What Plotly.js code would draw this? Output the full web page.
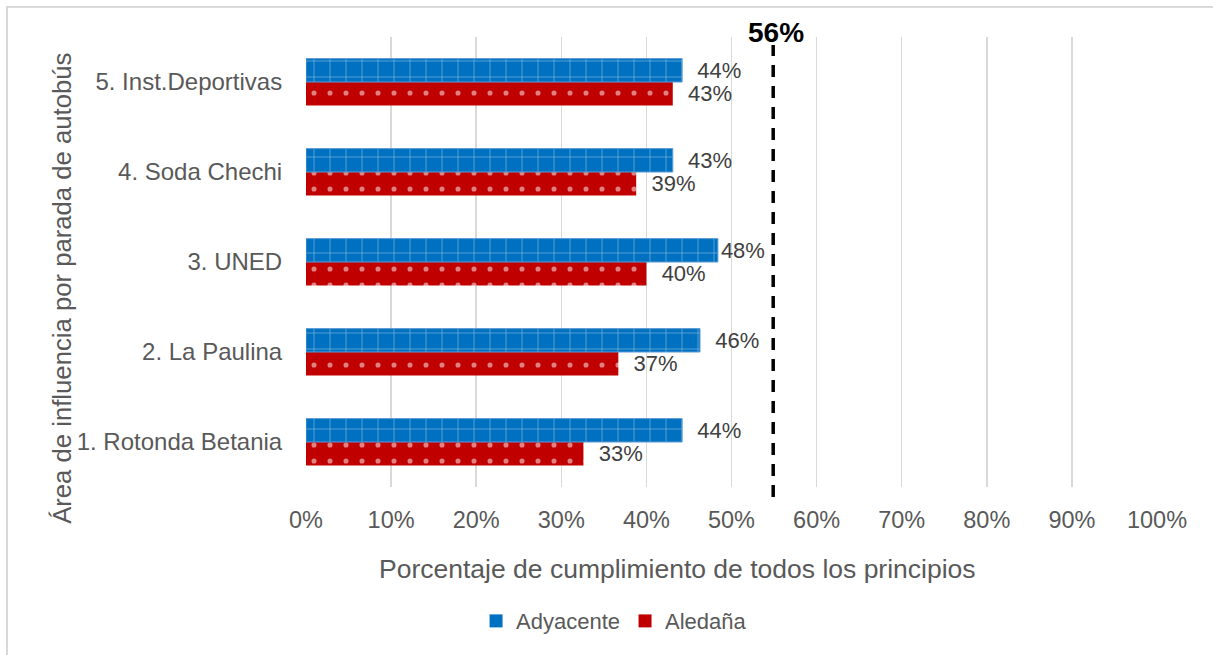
<!DOCTYPE html>
<html>
<head>
<meta charset="utf-8">
<script src="https://cdn.plot.ly/plotly-3.0.1.min.js"></script>
<style>
html,body{margin:0;padding:0;overflow:hidden;background:#fff;}
#frame{position:absolute;left:6px;top:6px;width:1300px;height:700px;border-left:2px solid #d9d9d9;border-top:2px solid #d9d9d9;box-sizing:border-box;pointer-events:none;z-index:5;}
#chart{position:absolute;left:0;top:0;width:1213px;height:655px;}
</style>
</head>
<body>
<div id="chart"></div>
<div id="frame"></div>
<script>
// Data (bottom to top)
const categories = ["1. Rotonda Betania", "2. La Paulina", "3. UNED", "4. Soda Chechi", "5. Inst.Deportivas"];
const adyacente = [44.2, 46.3, 48.4, 43.1, 44.2];
const adyacenteLabels = ["44%", "46%", "48%", "43%", "44%"];
const aledana = [32.6, 36.7, 40.0, 38.8, 43.1];
const aledanaLabels = ["33%", "37%", "40%", "39%", "43%"];
const referenceValue = 54.9;
const referenceLabel = "56%";
const xTickVals = [0,10,20,30,40,50,60,70,80,90,100];
const xTickText = ["0%","10%","20%","30%","40%","50%","60%","70%","80%","90%","100%"];

const FONT = "Liberation Sans, Arial, sans-serif";
const PAD = "\u00a0\u00a0%{text}";
const PAD_SMALL = "%{text}";
const BLUE = "#0070C0", RED = "#C00000";

const traces = [
  {
    type: "bar", orientation: "h", name: "Aledaña", showlegend: false,
    y: categories, x: aledana, text: aledanaLabels,
    texttemplate: PAD, constraintext: "none",
    textposition: "outside", cliponaxis: false,
    textfont: {family: FONT, size: 22, color: "#404040"},
    marker: {color: RED,
      pattern: {shape: ".", fillmode: "overlay", fgcolor: "#ffffff", bgcolor: RED, size: 16, solidity: 0.08}}
  },
  {
    type: "bar", orientation: "h", name: "Adyacente", showlegend: false,
    y: categories, x: adyacente, text: adyacenteLabels,
    texttemplate: [PAD, PAD, PAD_SMALL, PAD, PAD], constraintext: "none",
    textposition: "outside", cliponaxis: false,
    textfont: {family: FONT, size: 22, color: "#404040"},
    marker: {color: BLUE, line: {color: "#5B9BD5", width: 1},
      pattern: {shape: "+", fillmode: "overlay", fgcolor: "#ffffff", bgcolor: BLUE, size: 16, solidity: 0.08}}
  },
  // legend entries (solid squares)
  {type: "scatter", mode: "markers", name: "Adyacente", x: [null], y: [null],
   marker: {symbol: "square", size: 13, color: BLUE}, hoverinfo: "skip"},
  {type: "scatter", mode: "markers", name: "Aledaña", x: [null], y: [null],
   marker: {symbol: "square", size: 13, color: RED}, hoverinfo: "skip"}
];

const layout = {
  width: 1213, height: 655,
  margin: {l: 306, r: 56, t: 37, b: 168},
  paper_bgcolor: "#ffffff", plot_bgcolor: "#ffffff",
  font: {family: FONT, color: "#595959"},
  barmode: "group", bargap: 0.48, bargroupgap: 0,
  showlegend: true,
  legend: {orientation: "h", x: 0.362, xanchor: "center", y: -0.298, yanchor: "middle",
    itemwidth: 30, font: {family: FONT, size: 22, color: "#595959"}},
  xaxis: {
    range: [0, 100], tickvals: xTickVals, ticktext: xTickText,
    showgrid: true, gridcolor: "#d9d9d9", gridwidth: 1.5, zeroline: false,
    showline: false, ticks: "outside", ticklen: 12, tickcolor: "rgba(0,0,0,0)",
    tickfont: {family: FONT, size: 23.5, color: "#595959"}, fixedrange: true
  },
  yaxis: {
    type: "category", categoryorder: "array", categoryarray: categories,
    showgrid: false, zeroline: false, showline: false,
    ticks: "outside", ticklen: 18, tickcolor: "rgba(0,0,0,0)",
    tickfont: {family: FONT, size: 24, color: "#595959"}, fixedrange: true
  },
  shapes: [
    {type: "line", xref: "x", yref: "paper", x0: referenceValue, x1: referenceValue, y0: -0.022, y1: 0.982,
     line: {color: "#000000", width: 3.5, dash: "12px,9px"}}
  ],
  annotations: [
    {xref: "x", yref: "paper", x: referenceValue, y: 1.011, text: "<b>" + referenceLabel + "</b>",
     showarrow: false, xanchor: "center", yanchor: "middle", xshift: 3,
     font: {family: FONT, size: 28, color: "#000000"}},
    {xref: "paper", yref: "paper", x: 0.437, y: -0.182, text: "Porcentaje de cumplimiento de todos los principios",
     showarrow: false, xanchor: "center", yanchor: "middle",
     font: {family: FONT, size: 26.5, color: "#595959"}},
    {xref: "paper", yref: "paper", x: -0.287, y: 0.442, text: "Área de influencia por parada de autobús",
     showarrow: false, textangle: -90, xanchor: "center", yanchor: "middle",
     font: {family: FONT, size: 25.7, color: "#595959"}}
  ]
};

Plotly.newPlot("chart", traces, layout, {displayModeBar: false, staticPlot: true});
</script>
</body>
</html>
